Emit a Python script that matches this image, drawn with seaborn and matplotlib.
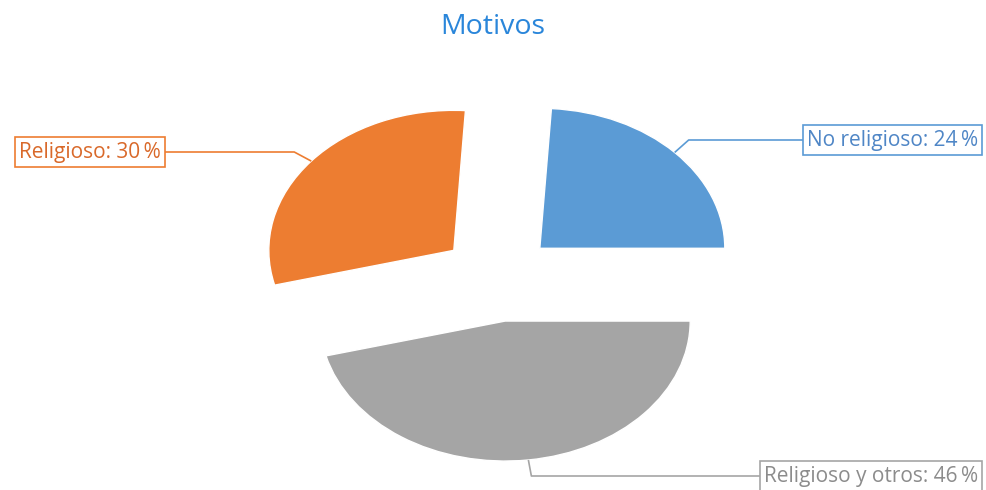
import numpy as np
import matplotlib
matplotlib.use("Agg")
import matplotlib.pyplot as plt
import seaborn as sns

# data
categories = ["No religioso", "Religioso y otros", "Religioso"]
values = [24, 46, 30]
colors = ["#5B9BD5", "#A5A5A5", "#ED7D31"]
text_colors = ["#4F86C6", "#8C8C8C", "#D9692A"]
title = "Motivos"

sns.set_theme(style="white")
plt.rcParams['font.family'] = ['Open Sans', 'DejaVu Sans']

W, H = 986, 490
fig = plt.figure(figsize=(W / 100, H / 100), dpi=100)
ax = fig.add_axes([0, 0, 1, 1])

# pie geometry (pixels)
cx, cy = 498, 278
rx, ry = 185, 140

def px2d(px, py):
    return (px - cx) / rx, (cy - py) / ry

wedges, _ = ax.pie(values, colors=colors, startangle=86.4, counterclock=False,
                   explode=[0.31] * 3, radius=1.0, frame=False,
                   wedgeprops=dict(edgecolor="white", linewidth=1.0))
ax.set_aspect('auto')
ax.set_xlim(-cx / rx, (W - cx) / rx)
ax.set_ylim(-(H - cy) / ry, cy / ry)
ax.axis('off')

FS = 15
pad_px = 0.2 * FS * 100 / 72

# label boxes: box edge x (px), box center y (px), elbow offset (px), side
label_layout = [
    dict(edge=803, y=140, elbow=(14, -12), ha="left"),
    dict(edge=760, y=476, elbow=(3, 17), ha="left"),
    dict(edge=165, y=152, elbow=(-17, -10), ha="right"),
]

for w, cat, val, tc, lay in zip(wedges, categories, values, text_colors, label_layout):
    th = np.deg2rad((w.theta1 + w.theta2) / 2)
    wx, wy = w.center
    ax_pt = (wx + np.cos(th), wy + np.sin(th))
    apx = cx + ax_pt[0] * rx
    apy = cy - ax_pt[1] * ry
    epx = apx + lay["elbow"][0]
    p0 = ax_pt
    p1 = px2d(epx, lay["y"])
    p2 = px2d(lay["edge"], lay["y"])
    ax.plot([p0[0], p1[0], p2[0]], [p0[1], p1[1], p2[1]], color=w.get_facecolor(),
            lw=1.2, solid_capstyle='butt', zorder=1)
    tx = lay["edge"] + (pad_px if lay["ha"] == "left" else -pad_px)
    bx, by = px2d(tx, lay["y"])
    ax.text(bx, by, f"{cat}: {val}\u2009%", ha=lay["ha"], va="center", fontsize=FS,
            color=tc, zorder=3,
            bbox=dict(boxstyle="square,pad=0.2", facecolor="white",
                      edgecolor=w.get_facecolor(), linewidth=1.2))

fig.text(0.5, 1 - 27 / H, title, ha="center", va="center", fontsize=20.5,
         color="#2A86DA")

fig.savefig("out.png", dpi=100)
